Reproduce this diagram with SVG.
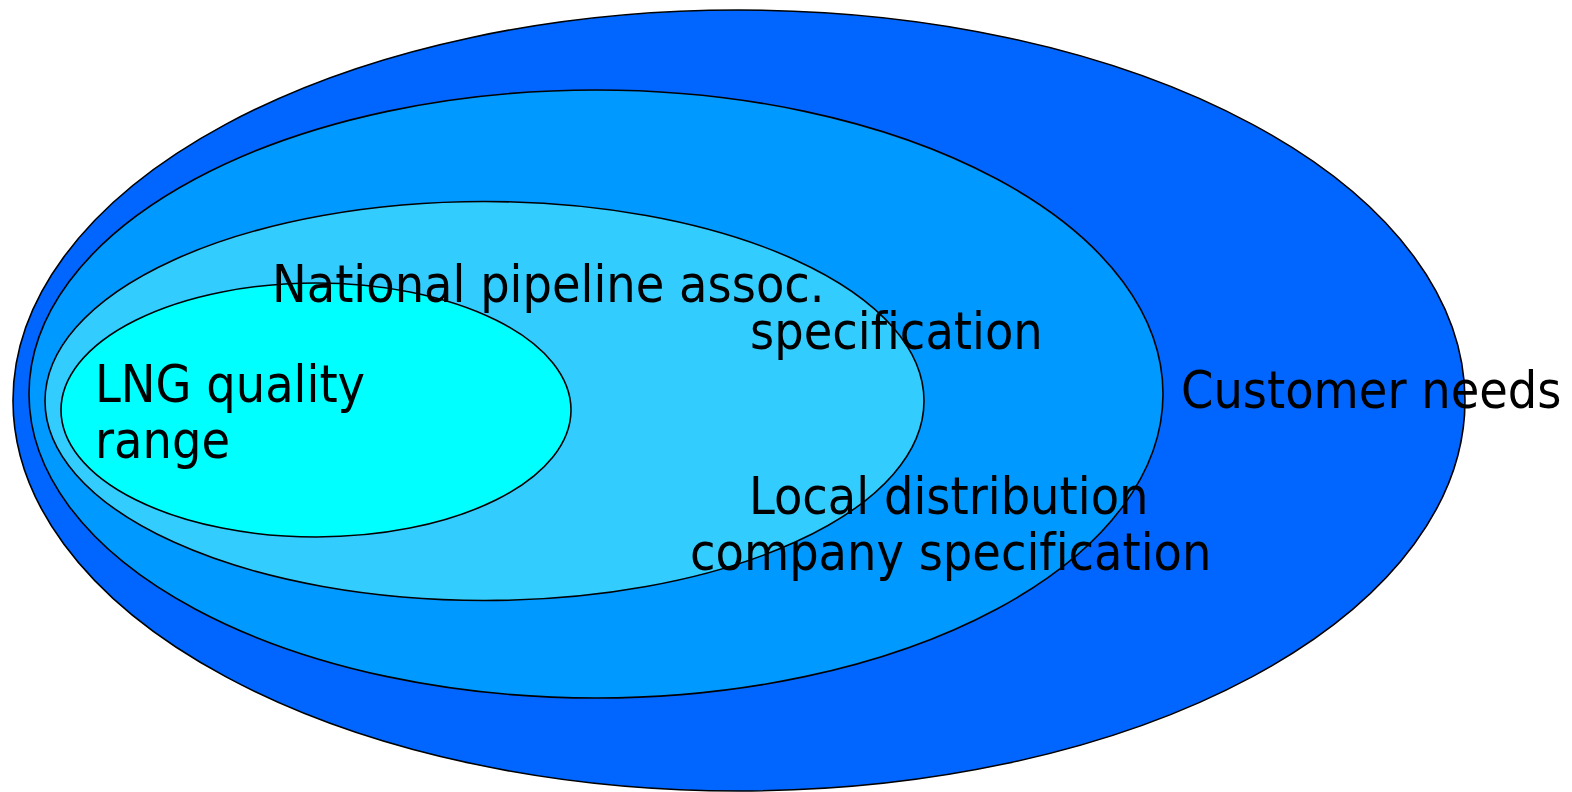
<svg xmlns="http://www.w3.org/2000/svg" width="1572" height="792" viewBox="0 0 1572 792">
<style>
.e{stroke:#000;stroke-width:1.6}
.t{font-family:"DejaVu Sans Condensed","DejaVu Sans",sans-serif;font-size:51.6px;fill:#000;font-variant-ligatures:none}
</style>
<rect width="1572" height="792" fill="#fff"/>
<g id="customer-needs">
<ellipse class="e" cx="739" cy="400.5" rx="726" ry="390.5" fill="#0066FF"/>
</g>
<g id="local-distribution">
<ellipse class="e" cx="596" cy="394" rx="567" ry="304" fill="#0099FF"/>
</g>
<g id="national-pipeline">
<ellipse class="e" cx="484.5" cy="401" rx="439.5" ry="199.5" fill="#33CCFF"/>
</g>
<g id="lng-quality">
<ellipse class="e" cx="316" cy="410" rx="255" ry="127" fill="#00FFFF"/>
</g>
<g id="labels">
<text class="t" x="272" y="302">National pipeline assoc.</text>
<text class="t" x="750" y="349">specification</text>
<text class="t" x="95" y="402">LNG quality</text>
<text class="t" x="95" y="458">range</text>
<text class="t" x="1181" y="408">Customer needs</text>
<text class="t" x="749" y="514">Local distribution</text>
<text class="t" x="690" y="570">company specification</text>
</g>
</svg>
